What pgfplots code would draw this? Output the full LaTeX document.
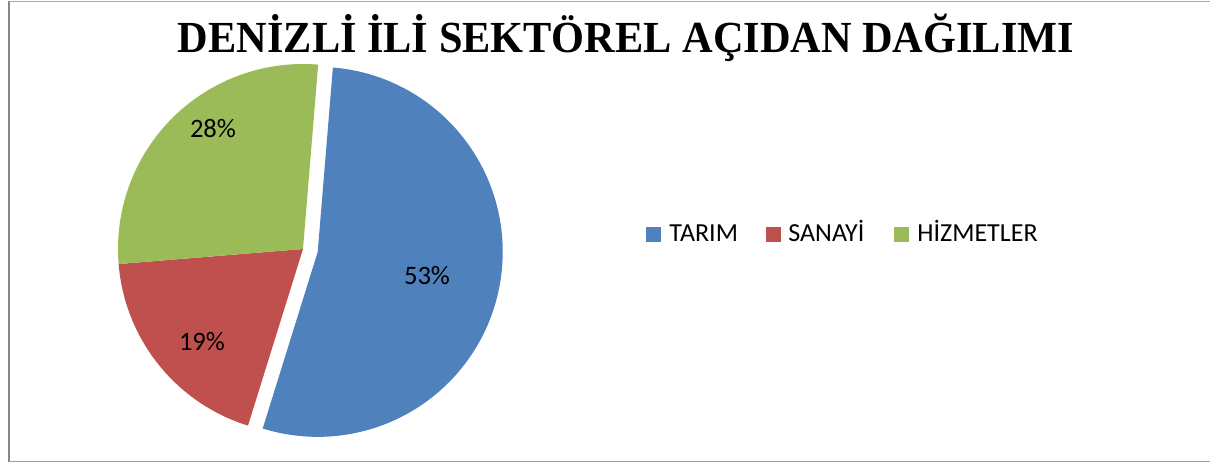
\documentclass[border=0pt]{standalone}
\usepackage{pgfplots}
\usepackage{pgfplotstable}
\pgfplotsset{compat=1.18}
\usepackage{graphicx}
\usepackage{fontspec}
\setmainfont{Carlito}
\newfontfamily\titlefont{Liberation Serif}
\definecolor{tarim}{HTML}{4F81BD}
\definecolor{sanayi}{HTML}{C0504D}
\definecolor{hizmet}{HTML}{9BBB59}
\definecolor{framec}{HTML}{868686}
\newcommand\lf{\fontsize{13pt}{15pt}\selectfont}

\pgfplotstableread{
sector value
TARIM 53.5
SANAYI 18.9
HIZMETLER 27.6
}\piedata
\pgfplotstablegetelem{0}{value}\of\piedata\pgfmathsetmacro\vA{\pgfplotsretval}
\pgfplotstablegetelem{1}{value}\of\piedata\pgfmathsetmacro\vB{\pgfplotsretval}
\pgfplotstablegetelem{2}{value}\of\piedata\pgfmathsetmacro\vC{\pgfplotsretval}
\pgfmathsetmacro\aA{85.3}
\pgfmathsetmacro\aB{\aA-3.6*\vA}
\pgfmathsetmacro\aC{\aB-3.6*\vB}
\pgfmathsetmacro\aD{\aC-3.6*\vC}
\pgfmathsetmacro\mA{(\aA+\aB)/2}
\pgfmathsetmacro\ex{303+15*cos(\mA)}
\pgfmathsetmacro\ey{214+15*sin(\mA)}

\begin{document}
\begin{tikzpicture}
\begin{axis}[
  at={(0pt,0pt)}, anchor=south west,
  scale only axis, width=605pt, height=231.5pt,
  xmin=0, xmax=1210, ymin=0, ymax=463,
  hide axis, clip=false,
]
% frame
\draw[framec, line width=1pt] (axis cs:8.5,1) -- (axis cs:8.5,462);
\draw[framec!70, line width=0.7pt] (axis cs:8.5,461.5) -- (axis cs:1210,461.5);
\draw[framec!80, line width=0.8pt] (axis cs:8.5,1.5) -- (axis cs:1210,1.5);
% pie slices
\fill[tarim] (axis cs:\ex,\ey) -- ++(\aA:92.5pt) arc[start angle=\aA, end angle=\aB, radius=92.5pt] -- cycle;
\fill[sanayi] (axis cs:303,214) -- ++(\aB:92.5pt) arc[start angle=\aB, end angle=\aC, radius=92.5pt] -- cycle;
\fill[hizmet] (axis cs:303,214) -- ++(\aC:92.5pt) arc[start angle=\aC, end angle=\aD, radius=92.5pt] -- cycle;
% labels
\node[font=\fontsize{13.3pt}{15pt}\selectfont] at (axis cs:427,187) {53\%};
\node[font=\fontsize{13.3pt}{15pt}\selectfont] at (axis cs:202,121) {19\%};
\node[font=\fontsize{13.3pt}{15pt}\selectfont] at (axis cs:213,334) {28\%};
% title
\node[anchor=base, inner sep=0pt] at (axis cs:626,410.5) {\resizebox{448pt}{\height}{\titlefont\bfseries\fontsize{22.2pt}{24pt}\selectfont DENİZLİ İLİ SEKTÖREL AÇIDAN DAĞILIMI}};
% legend
\fill[tarim]  (axis cs:646,221.3) rectangle (axis cs:661,235.7);
\fill[sanayi] (axis cs:766,221.3) rectangle (axis cs:781,235.7);
\fill[hizmet] (axis cs:894,221.3) rectangle (axis cs:909,235.7);
\node[anchor=base west, inner sep=0pt, font=\lf] at (axis cs:669,221.3) {TARIM};
\node[anchor=base west, inner sep=0pt, font=\lf] at (axis cs:788,221.3) {SANAYİ};
\node[anchor=base west, inner sep=0pt, font=\lf] at (axis cs:917,221.3) {HİZMETLER};
\end{axis}
\pgfresetboundingbox
\path[use as bounding box] (0pt,0pt) rectangle (605pt,231.5pt);
\end{tikzpicture}
\end{document}
